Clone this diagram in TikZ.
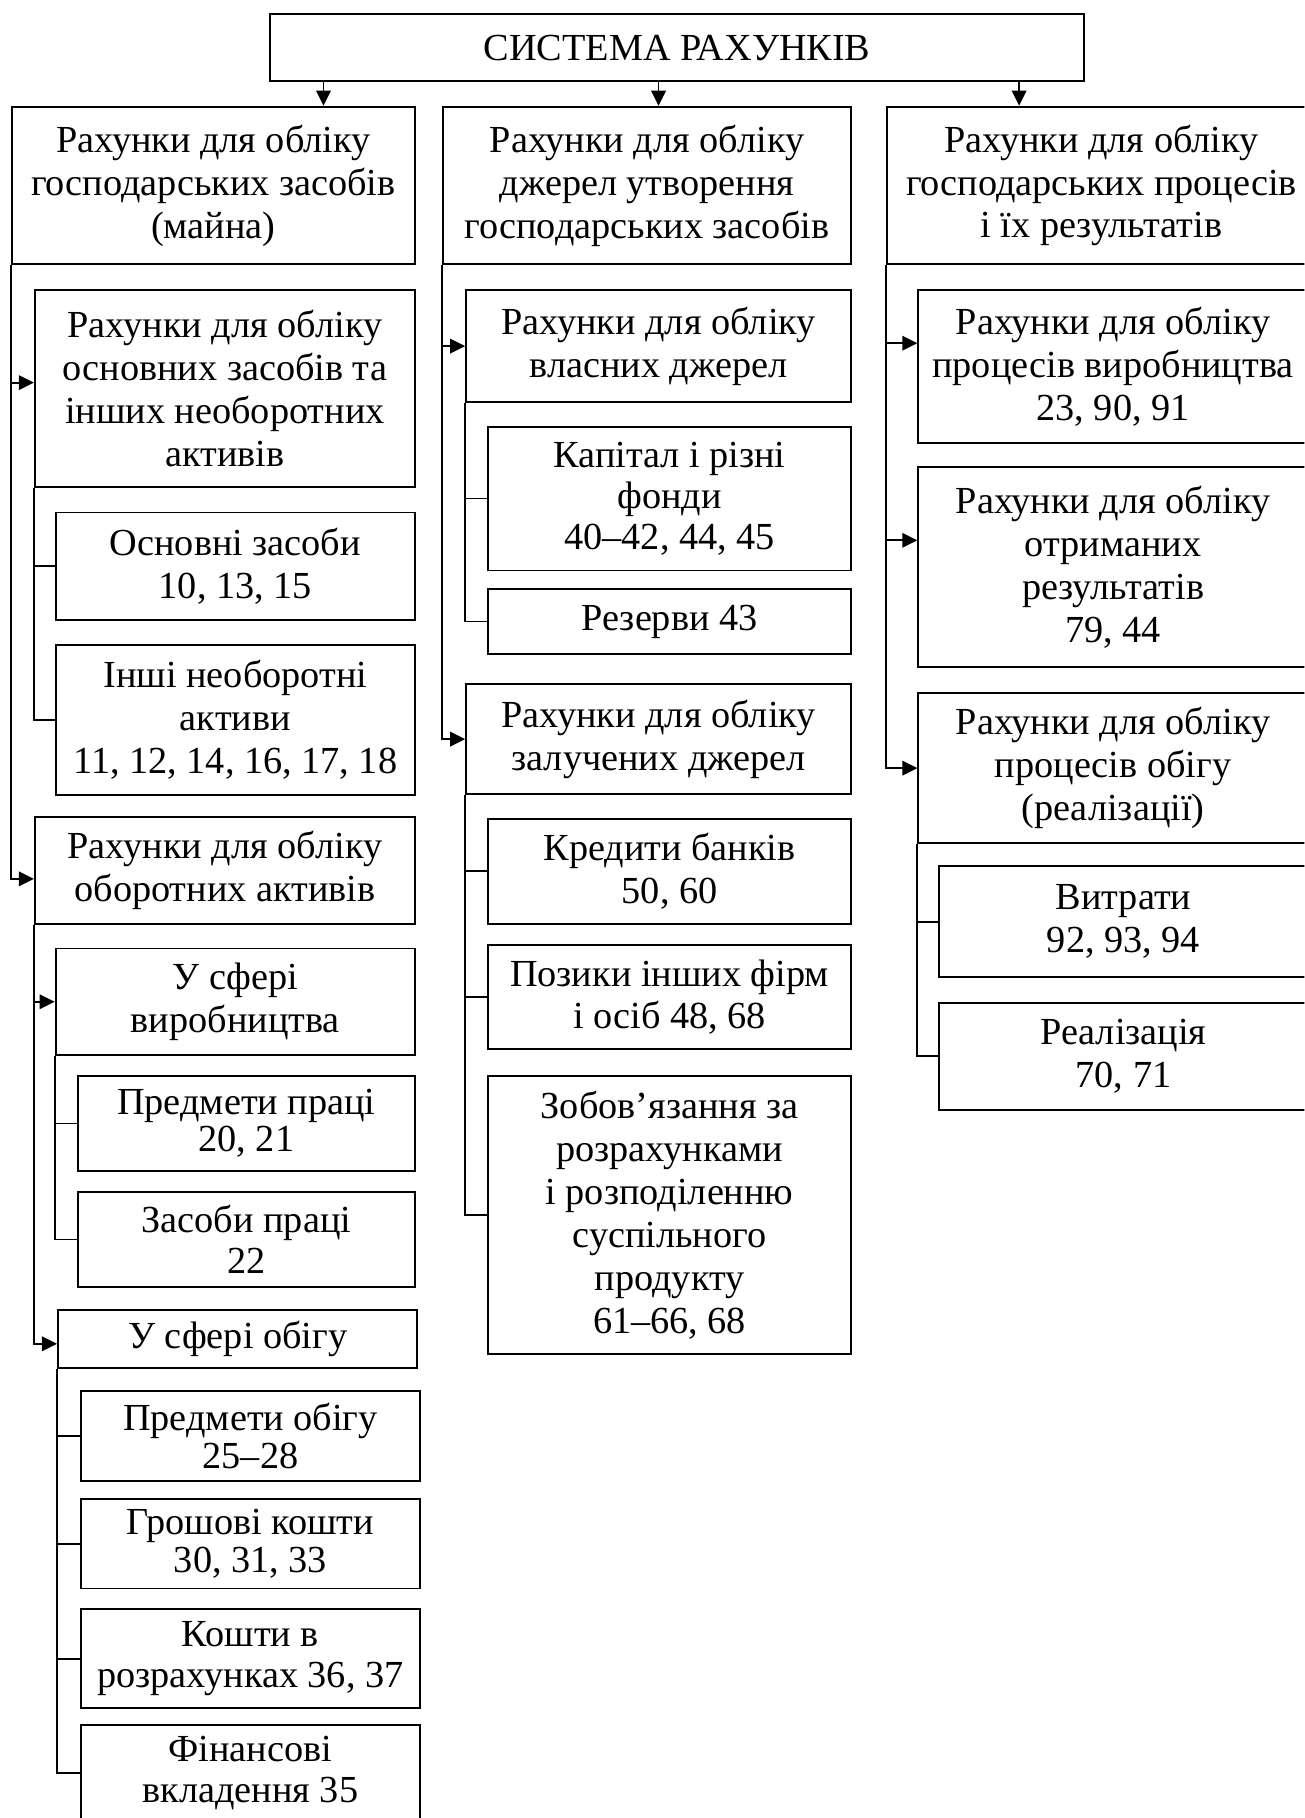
\documentclass[tikz,border=0pt]{standalone}
\usepackage{fontspec}
\setmainfont{Liberation Serif}
\usetikzlibrary{arrows.meta}
\newcommand\mybox[7][]{%
  \node[box,#1,minimum width={(#5)-(#3)},minimum height={(#6)-(#4)}] (#2) at ({((#3)+(#5))/2},{((#4)+(#6))/2}) {#7};}
\begin{document}
\begin{tikzpicture}[x=1pt,y=-1pt,
  box/.style={draw,line width=1.6pt,align=center,inner sep=0pt,font=\fontsize{33}{37}\selectfont},
  tight/.style={font=\fontsize{33}{32}\selectfont},
  mid/.style={font=\fontsize{33}{35.5}\selectfont},
  ln/.style={line width=1.6pt},
  arr/.style={line width=1.6pt,-{Triangle[length=13pt,width=12.5pt]}}
]
\useasboundingbox (0,0) rectangle (1125,1568);
\begin{scope}
\clip (0,0) rectangle (1125,1568);
% top
\mybox{top}{233}{12}{935}{70}{СИСТЕМА РАХУНКІВ}
% headers
\mybox{h1}{10}{92}{358}{228}{Рахунки для обліку\\господарських засобів\\(майна)}
\mybox{h2}{382}{92}{734}{228}{Рахунки для обліку\\джерел утворення\\господарських засобів}
\mybox{h3}{765}{92}{1135}{228}{Рахунки для обліку\\господарських процесів\\і їх результатів}
% column 1
\mybox{a1}{30}{250}{358}{420}{Рахунки для обліку\\основних засобів та\\інших необоротних\\активів}
\mybox{a11}{48}{442}{358}{535}{Основні засоби\\10, 13, 15}
\mybox{a12}{48}{556}{358}{686}{Інші необоротні\\активи\\11, 12, 14, 16, 17, 18}
\mybox{a2}{30}{705}{358}{797}{Рахунки для обліку\\оборотних активів}
\mybox{b1}{48}{818}{358}{910}{У сфері\\виробництва}
\mybox[tight]{b11}{67}{928}{358}{1010}{Предмети праці\\20, 21}
\mybox[mid]{b12}{67}{1028}{358}{1110}{Засоби праці\\22}
\mybox{b2}{50}{1130}{360}{1180}{У сфері обігу}
\mybox[tight]{b21}{70}{1200}{362}{1277}{Предмети обігу\\25–28}
\mybox[tight]{b22}{70}{1293}{362}{1370}{Грошові кошти\\30, 31, 33}
\mybox[mid]{b23}{70}{1388}{362}{1473}{Кошти в\\розрахунках 36, 37}
\mybox{b24}{70}{1488}{362}{1620}{}
\node[box,mid,draw=none] (b24t) at (216,1529) {Фінансові\\вкладення 35};
% column 2
\mybox{c1}{402}{250}{734}{347}{Рахунки для обліку\\власних джерел}
\mybox[mid]{c11}{421}{368}{734}{492}{Капітал і різні\\фонди\\40–42, 44, 45}
\mybox{c12}{421}{508}{734}{564}{Резерви 43}
\mybox{c2}{402}{590}{734}{685}{Рахунки для обліку\\залучених джерел}
\mybox{c21}{421}{706}{734}{797}{Кредити банків\\50, 60}
\mybox{c22}{421}{815}{734}{905}{Позики інших фірм\\і осіб 48, 68}
\mybox{c23}{421}{928}{734}{1168}{Зобов’язання за\\розрахунками\\і розподіленню\\суспільного\\продукту\\61–66, 68}
% column 3
\mybox{d1}{792}{250}{1128}{382}{Рахунки для обліку\\процесів виробництва\\23, 90, 91}
\mybox{d2}{792}{403}{1128}{575}{Рахунки для обліку\\отриманих\\результатів\\79, 44}
\mybox{d3}{792}{598}{1128}{727}{Рахунки для обліку\\процесів обігу\\(реалізації)}
\mybox{d31}{810}{747}{1128}{843}{Витрати\\92, 93, 94}
\mybox{d32}{810}{865}{1128}{957}{Реалізація\\70, 71}
% top arrows
\coordinate (t1) at ([xshift=95pt]h1.north);
\coordinate (t2) at ([xshift=10pt]h2.north);
\coordinate (t3) at ([xshift=-71pt]h3.north);
\foreach \t in {t1,t2,t3} \draw[arr] (top.south -| \t) -- (\t);
% column 1 connectors
\draw[arr] (h1.south west) |- ([yshift=-7pt]a2.west);
\coordinate (a1w) at ([yshift=5pt]a1.west);
\draw[arr] (h1.south west |- a1w) -- (a1w);
\draw[ln] (a1.south west) |- (a12.west);
\draw[ln] (a1.south west |- a11.west) -- (a11.west);
\draw[arr] (a2.south west) |- ([yshift=-4pt]b2.west);
\draw[arr] (a2.south west |- b1.west) -- (b1.west);
\draw[ln] (b1.south west) |- (b12.west);
\draw[ln] (b1.south west |- b11.west) -- (b11.west);
\draw[ln] (b2.south west) |- (b24.west |- b24t.center);
\foreach \n in {b21,b22,b23} \draw[ln] (b2.south west |- \n.west) -- (\n.west);
% column 2 connectors
\draw[arr] (h2.south west) |- (c2.west);
\draw[arr] (h2.south west |- c1.west) -- (c1.west);
\draw[ln] (c1.south west) |- (c12.west);
\draw[ln] (c1.south west |- c11.west) -- (c11.west);
\draw[ln] (c2.south west) |- (c23.west);
\foreach \n in {c21,c22} \draw[ln] (c2.south west |- \n.west) -- (\n.west);
% column 3 connectors
\draw[arr] (h3.south west) |- (d3.west);
\coordinate (d1w) at ([yshift=20pt]d1.west);
\coordinate (d2w) at ([yshift=23pt]d2.west);
\draw[arr] (h3.south west |- d1w) -- (d1w);
\draw[arr] (h3.south west |- d2w) -- (d2w);
\draw[ln] (d3.south west) |- (d32.west);
\draw[ln] (d3.south west |- d31.west) -- (d31.west);
\end{scope}
\end{tikzpicture}
\end{document}
